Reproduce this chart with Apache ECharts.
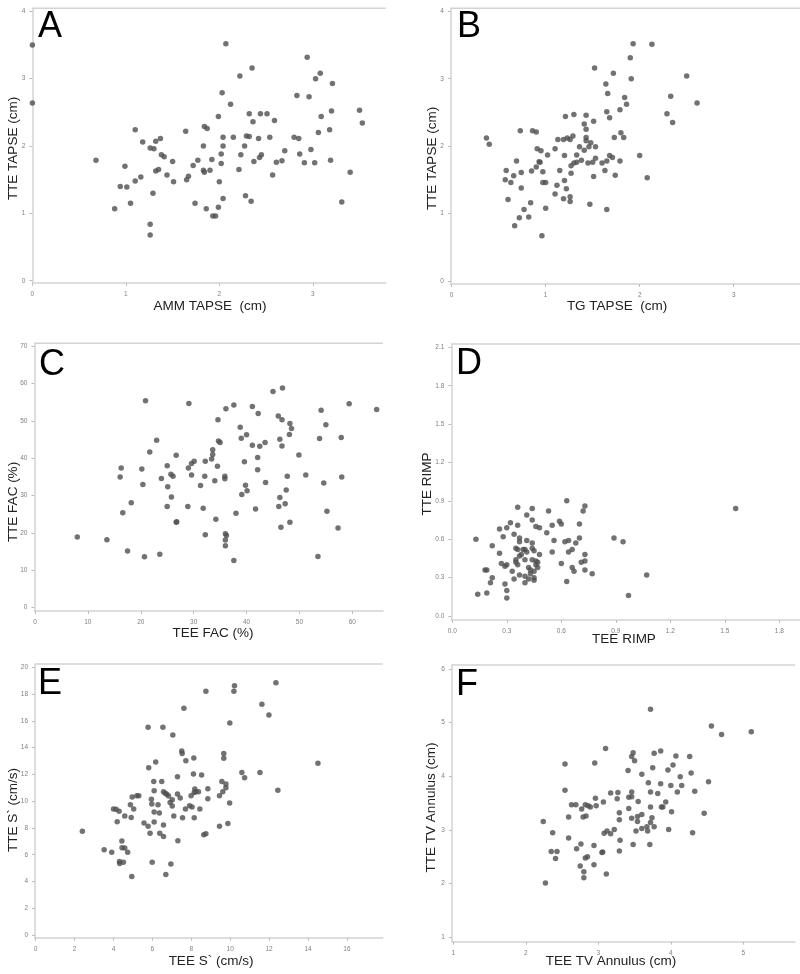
<!DOCTYPE html>
<html><head><meta charset="utf-8">
<script src="https://cdn.jsdelivr.net/npm/echarts@6/dist/echarts.min.js"></script>
<style>html,body{margin:0;padding:0;background:#fff}#c{width:800px;height:974px}</style>
</head><body><div id="c"></div>
<script>
// ---- Data: [x, y] pairs per panel ----
const panelA = [[0,3.50],[0,2.64],[0.68,1.79],[0.88,1.07],[0.94,1.40],[0.99,1.70],[1.01,1.39],[1.05,1.15],[1.10,2.24],[1.10,1.48],[1.16,1.54],[1.18,2.06],[1.26,1.97],[1.30,1.96],[1.32,2.07],[1.37,2.11],[1.26,0.84],[1.26,0.68],[1.29,1.30],[1.32,1.63],[1.35,1.65],[1.38,1.87],[1.41,1.84],[1.44,1.57],[1.50,1.77],[1.51,1.47],[1.64,2.22],[1.65,1.50],[1.67,1.55],[1.72,1.71],[1.74,1.15],[1.77,1.79],[1.83,2.00],[1.84,2.29],[1.87,2.26],[1.83,1.64],[1.84,1.61],[1.86,1.07],[1.90,1.64],[1.92,1.80],[1.93,0.96],[1.96,0.96],[1.99,2.44],[2.00,1.47],[1.99,1.09],[2.02,1.88],[2.02,1.74],[2.03,2.79],[2.04,2.13],[2.04,2.00],[2.04,1.22],[2.07,3.52],[2.12,2.62],[2.15,2.13],[2.21,1.65],[2.22,3.04],[2.23,1.87],[2.27,2.00],[2.28,1.26],[2.29,2.15],[2.32,2.14],[2.32,2.48],[2.34,1.18],[2.35,3.16],[2.36,2.36],[2.37,1.77],[2.42,2.11],[2.43,1.83],[2.44,2.48],[2.45,1.87],[2.51,2.48],[2.54,2.13],[2.57,1.57],[2.59,2.38],[2.61,1.76],[2.67,1.78],[2.70,1.93],[2.80,2.13],[2.83,2.75],[2.85,2.11],[2.86,1.88],[2.91,1.75],[2.94,3.32],[2.96,2.73],[2.98,1.95],[3.02,1.75],[3.03,3.00],[3.06,2.20],[3.08,3.08],[3.09,2.44],[3.18,2.24],[3.19,1.79],[3.20,2.52],[3.21,2.93],[3.31,1.17],[3.40,1.61],[3.50,2.53],[3.53,2.34]];

const panelB = [[0.37,2.12],[0.40,2.03],[0.58,1.64],[0.57,1.50],[0.60,1.21],[0.63,1.46],[0.66,1.56],[0.67,0.82],[0.69,1.78],[0.72,0.94],[0.73,2.23],[0.74,1.61],[0.74,1.38],[0.77,1.06],[0.82,0.95],[0.84,1.16],[0.85,1.63],[0.86,2.23],[0.90,2.21],[0.90,1.69],[0.91,1.96],[0.93,1.77],[0.94,1.76],[0.95,1.93],[0.96,0.67],[0.97,1.62],[0.97,1.46],[1.00,1.46],[1.00,1.08],[1.02,1.87],[1.10,1.96],[1.10,1.29],[1.12,1.42],[1.13,2.10],[1.15,1.64],[1.19,1.22],[1.19,2.10],[1.20,1.49],[1.20,1.86],[1.21,2.44],[1.22,1.37],[1.23,2.12],[1.26,1.18],[1.26,1.25],[1.26,2.10],[1.27,1.71],[1.27,1.60],[1.29,2.15],[1.30,2.47],[1.30,1.75],[1.33,1.87],[1.33,1.76],[1.36,1.99],[1.38,1.79],[1.41,1.94],[1.41,2.33],[1.43,2.46],[1.43,2.25],[1.43,2.13],[1.43,2.08],[1.45,1.75],[1.46,1.99],[1.47,1.14],[1.48,2.05],[1.50,1.76],[1.51,2.37],[1.51,1.55],[1.52,3.16],[1.53,1.99],[1.53,1.82],[1.60,1.75],[1.63,1.64],[1.64,2.92],[1.65,2.51],[1.65,1.78],[1.65,1.06],[1.66,2.78],[1.68,2.42],[1.68,1.86],[1.71,1.83],[1.72,3.08],[1.73,2.13],[1.74,1.57],[1.79,1.78],[1.79,2.54],[1.80,2.20],[1.83,2.13],[1.84,2.72],[1.86,2.62],[1.90,3.31],[1.91,3.00],[1.93,3.52],[2.00,1.86],[2.08,1.53],[2.13,3.51],[2.29,2.48],[2.33,2.74],[2.35,2.35],[2.50,3.04],[2.61,2.64]];

const panelC = [[8.0,18.9],[13.6,18.2],[16.1,35.0],[16.3,37.4],[16.6,25.4],[17.5,15.2],[18.2,28.1],[20.2,37.1],[20.4,33.0],[20.7,13.6],[20.9,55.4],[21.7,41.7],[23.0,44.8],[23.6,14.3],[23.9,34.6],[25.0,38.0],[25.1,32.4],[25.0,27.1],[25.7,35.7],[25.8,29.6],[26.1,35.2],[26.7,22.9],[26.8,23.0],[26.7,40.8],[28.9,27.1],[29.0,37.4],[29.1,54.7],[29.6,38.6],[29.6,35.5],[30.1,39.2],[31.3,32.7],[31.8,26.6],[32.1,35.2],[32.2,39.2],[32.2,19.5],[33.4,39.8],[33.6,41.0],[33.6,42.3],[34.0,34.0],[34.2,23.7],[34.5,37.9],[34.6,50.3],[34.7,44.6],[35.0,44.2],[35.9,35.2],[35.9,34.5],[36.0,19.8],[36.0,18.1],[36.0,16.6],[36.2,19.3],[36.1,53.3],[37.6,54.3],[37.6,12.6],[38.0,25.3],[38.8,48.3],[39.0,45.4],[39.1,30.3],[39.6,39.1],[39.8,32.8],[40.1,31.3],[40.0,46.3],[41.1,53.9],[41.1,43.5],[41.7,26.4],[42.1,40.2],[42.1,36.9],[42.2,52.0],[42.5,43.2],[43.5,44.2],[43.6,33.5],[45.0,57.9],[46.0,51.3],[46.1,27.1],[46.3,45.1],[46.3,29.5],[46.5,21.5],[46.7,50.3],[46.7,43.3],[46.8,58.8],[47.3,27.8],[47.5,31.5],[47.7,35.2],[48.1,46.4],[48.2,49.3],[48.2,22.9],[48.5,48.0],[49.9,40.9],[51.2,35.5],[53.5,13.7],[53.8,45.3],[54.1,52.9],[54.6,33.4],[55.0,49.0],[55.2,25.8],[57.3,21.3],[57.9,45.6],[58.0,35.0],[59.4,54.6],[64.6,53.1]];

const panelD = [[0.13,0.60],[0.14,0.17],[0.18,0.36],[0.19,0.36],[0.19,0.18],[0.21,0.26],[0.22,0.55],[0.22,0.30],[0.26,0.49],[0.26,0.68],[0.27,0.41],[0.28,0.62],[0.29,0.39],[0.29,0.25],[0.30,0.69],[0.30,0.40],[0.30,0.20],[0.30,0.14],[0.32,0.73],[0.33,0.35],[0.34,0.64],[0.34,0.29],[0.35,0.44],[0.35,0.53],[0.35,0.42],[0.36,0.71],[0.36,0.85],[0.36,0.52],[0.36,0.40],[0.37,0.61],[0.37,0.58],[0.37,0.47],[0.37,0.32],[0.38,0.48],[0.39,0.52],[0.40,0.31],[0.40,0.52],[0.40,0.44],[0.40,0.26],[0.41,0.79],[0.41,0.50],[0.41,0.59],[0.42,0.38],[0.42,0.29],[0.43,0.33],[0.43,0.36],[0.44,0.57],[0.44,0.84],[0.44,0.44],[0.44,0.53],[0.44,0.75],[0.45,0.51],[0.45,0.30],[0.45,0.28],[0.45,0.35],[0.46,0.43],[0.46,0.40],[0.46,0.70],[0.47,0.38],[0.47,0.42],[0.48,0.69],[0.48,0.48],[0.52,0.65],[0.53,0.82],[0.55,0.50],[0.55,0.71],[0.56,0.59],[0.59,0.74],[0.60,0.41],[0.60,0.72],[0.62,0.58],[0.63,0.27],[0.63,0.90],[0.64,0.59],[0.64,0.50],[0.66,0.38],[0.66,0.52],[0.67,0.35],[0.68,0.57],[0.70,0.72],[0.70,0.61],[0.71,0.42],[0.72,0.82],[0.73,0.48],[0.73,0.36],[0.73,0.86],[0.73,0.43],[0.77,0.33],[0.89,0.61],[0.94,0.58],[0.97,0.16],[1.07,0.32],[1.56,0.84]];

const panelE = [[2.40,7.75],[3.52,6.38],[3.91,6.18],[4.00,9.41],[4.13,9.39],[4.19,8.47],[4.29,9.24],[4.31,5.50],[4.32,5.35],[4.43,7.02],[4.44,6.53],[4.51,5.43],[4.58,6.50],[4.58,8.89],[4.73,6.18],[4.87,9.74],[4.91,8.79],[4.94,4.38],[4.96,10.31],[5.04,9.41],[5.20,10.41],[5.30,10.41],[5.57,8.37],[5.78,8.12],[5.81,12.50],[5.78,15.52],[5.88,7.60],[5.95,10.14],[5.97,9.79],[5.99,5.43],[6.07,11.48],[6.09,9.19],[6.09,8.44],[6.09,10.78],[6.17,12.93],[6.29,9.74],[6.36,9.12],[6.38,7.60],[6.48,11.48],[6.54,15.52],[6.57,10.71],[6.57,8.22],[6.57,7.37],[6.66,10.59],[6.74,10.51],[6.83,10.39],[6.69,4.53],[6.91,9.91],[6.95,5.31],[7.02,10.11],[7.02,9.64],[7.05,14.94],[7.10,8.89],[7.29,11.83],[7.29,10.54],[7.31,7.05],[7.43,10.24],[7.51,13.75],[7.53,13.57],[7.55,8.77],[7.62,16.94],[7.70,9.41],[7.72,13.03],[7.91,9.66],[7.99,10.41],[8.04,9.56],[8.11,12.03],[8.13,13.23],[8.15,8.77],[8.15,10.64],[8.18,10.91],[8.23,10.71],[8.37,10.71],[8.44,9.41],[8.53,11.96],[8.64,7.50],[8.75,7.57],[8.75,18.21],[8.85,10.93],[8.85,10.19],[9.45,8.12],[9.45,10.41],[9.57,11.48],[9.62,10.71],[9.67,13.57],[9.67,13.20],[9.78,11.28],[9.78,11.01],[9.88,8.34],[9.97,9.86],[9.98,15.84],[10.19,18.21],[10.22,18.63],[10.60,12.15],[10.74,11.76],[11.53,12.15],[11.63,17.24],[11.99,16.44],[12.35,18.85],[12.45,10.81],[14.51,12.83]];

const panelF = [[2.24,3.16],[2.27,2.01],[2.37,2.95],[2.35,2.60],[2.43,2.60],[2.41,2.47],[2.54,3.74],[2.54,4.23],[2.59,3.24],[2.59,2.85],[2.63,3.47],[2.69,3.47],[2.70,2.65],[2.75,2.33],[2.76,2.74],[2.77,3.39],[2.79,3.24],[2.83,3.26],[2.80,2.22],[2.80,2.11],[2.82,2.48],[2.85,2.50],[2.82,3.47],[2.86,3.45],[2.89,3.43],[2.94,2.35],[2.94,2.71],[2.95,4.25],[2.96,3.59],[2.97,3.45],[3.05,2.58],[3.06,2.59],[3.07,3.52],[3.08,2.94],[3.10,4.52],[3.11,2.18],[3.12,2.98],[3.17,2.93],[3.17,3.69],[3.22,3.01],[3.26,3.58],[3.27,3.70],[3.29,3.32],[3.29,3.19],[3.29,2.61],[3.30,2.81],[3.41,4.11],[3.42,3.61],[3.42,3.40],[3.46,3.62],[3.46,3.71],[3.46,4.37],[3.46,3.22],[3.48,2.73],[3.48,4.44],[3.50,4.29],[3.52,2.98],[3.54,3.25],[3.54,3.16],[3.55,3.53],[3.60,3.29],[3.60,3.03],[3.60,4.04],[3.67,3.06],[3.68,2.98],[3.69,3.88],[3.71,2.73],[3.72,5.25],[3.72,3.43],[3.72,3.71],[3.72,3.14],[3.74,3.23],[3.75,4.16],[3.77,3.06],[3.77,4.43],[3.82,3.68],[3.86,3.86],[3.87,3.43],[3.89,3.43],[3.86,4.47],[3.93,3.52],[3.97,3.01],[3.96,4.12],[4.00,3.83],[4.01,3.34],[4.03,4.21],[4.07,4.38],[4.09,3.71],[4.13,3.99],[4.15,3.83],[4.26,4.37],[4.28,4.06],[4.30,2.95],[4.33,3.72],[4.46,3.31],[4.52,3.90],[4.56,4.94],[4.70,4.78],[5.11,4.83]];

// ---- Tick values ----
const ticksAx = [0,1,2,3];
const ticksAy = [0,1,2,3,4];
const ticksBx = [0,1,2,3];
const ticksBy = [0,1,2,3,4];
const ticksCx = [0,10,20,30,40,50,60];
const ticksCy = [0,10,20,30,40,50,60,70];
const ticksDx = [0.0,0.3,0.6,0.9,1.2,1.5,1.8];
const ticksDy = [0.0,0.3,0.6,0.9,1.2,1.5,1.8,2.1];
const ticksEx = [0,2,4,6,8,10,12,14,16];
const ticksEy = [0,2,4,6,8,10,12,14,16,18,20];
const ticksFx = [1,2,3,4,5];
const ticksFy = [1,2,3,4,5,6];

// ---- Texts ----
const letters = ['A','B','C','D','E','F'];
const xTitles = ['AMM TAPSE  (cm)','TG TAPSE  (cm)','TEE FAC (%)','TEE RIMP','TEE S` (cm/s)','TEE TV Annulus (cm)'];
const yTitles = ['TTE TAPSE (cm)','TTE TAPSE (cm)','TTE FAC (%)','TTE RIMP','TTE S` (cm/s)','TTE TV Annulus (cm)'];

// ---- Layout (pixels) ----
const layout = [
  {data:panelA, xt:ticksAx, yt:ticksAy, l:32.4, t:8.3, r:385.7, b:283, xMin:0, xMax:3.78, yMin:-0.034, yMax:4.045, dec:0,
   lx:38, ly:27, xtx:210, xty:306.5, ytx:13, yty:148.5},
  {data:panelB, xt:ticksBx, yt:ticksBy, l:450.9, t:8.3, r:800, b:284, xMin:-0.008, xMax:3.705, yMin:-0.044, yMax:4.044, dec:0,
   lx:457, ly:27, xtx:617, xty:306, ytx:432, yty:158.5},
  {data:panelC, xt:ticksCx, yt:ticksCy, l:34.4, t:343.3, r:383, b:611, xMin:-0.11, xMax:65.8, yMin:-0.9, yMax:70.8, dec:0,
   lx:39, ly:365, xtx:213, xty:633, ytx:13, yty:502},
  {data:panelD, xt:ticksDx, yt:ticksDy, l:451.3, t:344, r:800, b:620, xMin:-0.0055, xMax:1.914, yMin:-0.031, yMax:2.126, dec:1,
   lx:456, ly:364, xtx:624, xty:639, ytx:427, yty:484},
  {data:panelE, xt:ticksEx, yt:ticksEy, l:35, t:664, r:382.7, b:937.7, xMin:-0.035, xMax:17.84, yMin:-0.2, yMax:20.25, dec:0,
   lx:38, ly:684, xtx:211, xty:961.5, ytx:13, yty:810},
  {data:panelF, xt:ticksFx, yt:ticksFy, l:451.9, t:665, r:795, b:941.7, xMin:0.98, xMax:5.713, yMin:0.918, yMax:6.075, dec:0,
   lx:456, ly:685, xtx:611, xty:961.5, ytx:431.7, yty:807.5}
];

const axisColor = '#d3d3d3';
const grids = [], xAxes = [], yAxes = [], series = [], graphics = [];
layout.forEach((p, i) => {
  grids.push({left:p.l, top:p.t, width:p.r - p.l, height:p.b - p.t, containLabel:false});
  const fmt = v => p.dec ? Number(v).toFixed(p.dec) : String(Math.round(v));
  xAxes.push({
    type:'value', gridIndex:i, min:p.xMin, max:p.xMax,
    axisLine:{show:true, onZero:false, lineStyle:{color:axisColor, width:1.5}},
    axisTick:{show:true, length:3, customValues:p.xt, lineStyle:{color:'#bdbdbd', width:1}},
    axisLabel:{show:true, customValues:p.xt, fontSize:6.5, color:'#808080', margin:8, formatter:fmt, fontFamily:'Liberation Sans'},
    splitLine:{show:false}
  });
  yAxes.push({
    type:'value', gridIndex:i, min:p.yMin, max:p.yMax,
    axisLine:{show:true, onZero:false, lineStyle:{color:axisColor, width:1.5}},
    axisTick:{show:true, length:3, customValues:p.yt, lineStyle:{color:'#bdbdbd', width:1}},
    axisLabel:{show:true, customValues:p.yt, fontSize:6.5, color:'#808080', margin:7, formatter:fmt, fontFamily:'Liberation Sans'},
    splitLine:{show:false}
  });
  series.push({
    type:'scatter', xAxisIndex:i, yAxisIndex:i, data:p.data,
    symbol:'circle', symbolSize:5.5, itemStyle:{color:'#4f4f4f'}, silent:true, animation:false
  });
  graphics.push({type:'line', shape:{x1:p.l, y1:p.t, x2:p.r, y2:p.t}, style:{stroke:axisColor, lineWidth:1.5}, silent:true});
  graphics.push({type:'text', x:p.lx, y:p.ly, style:{text:letters[i], font:'36px "Liberation Sans", Arial, sans-serif', fill:'#000', textAlign:'left', textVerticalAlign:'middle'}});
  graphics.push({type:'text', x:p.xtx, y:p.xty, style:{text:xTitles[i], font:'13.5px "Liberation Sans", Arial, sans-serif', fill:'#222', textAlign:'center', textVerticalAlign:'middle'}});
  graphics.push({type:'text', x:p.ytx, y:p.yty, rotation:Math.PI/2, style:{text:yTitles[i], font:'13.5px "Liberation Sans", Arial, sans-serif', fill:'#222', textAlign:'center', textVerticalAlign:'middle'}});
});

const chart = echarts.init(document.getElementById('c'), null, {renderer:'canvas'});
chart.setOption({
  animation:false,
  backgroundColor:'#ffffff',
  grid:grids, xAxis:xAxes, yAxis:yAxes, series:series,
  graphic:{elements:graphics}
});
</script></body></html>
